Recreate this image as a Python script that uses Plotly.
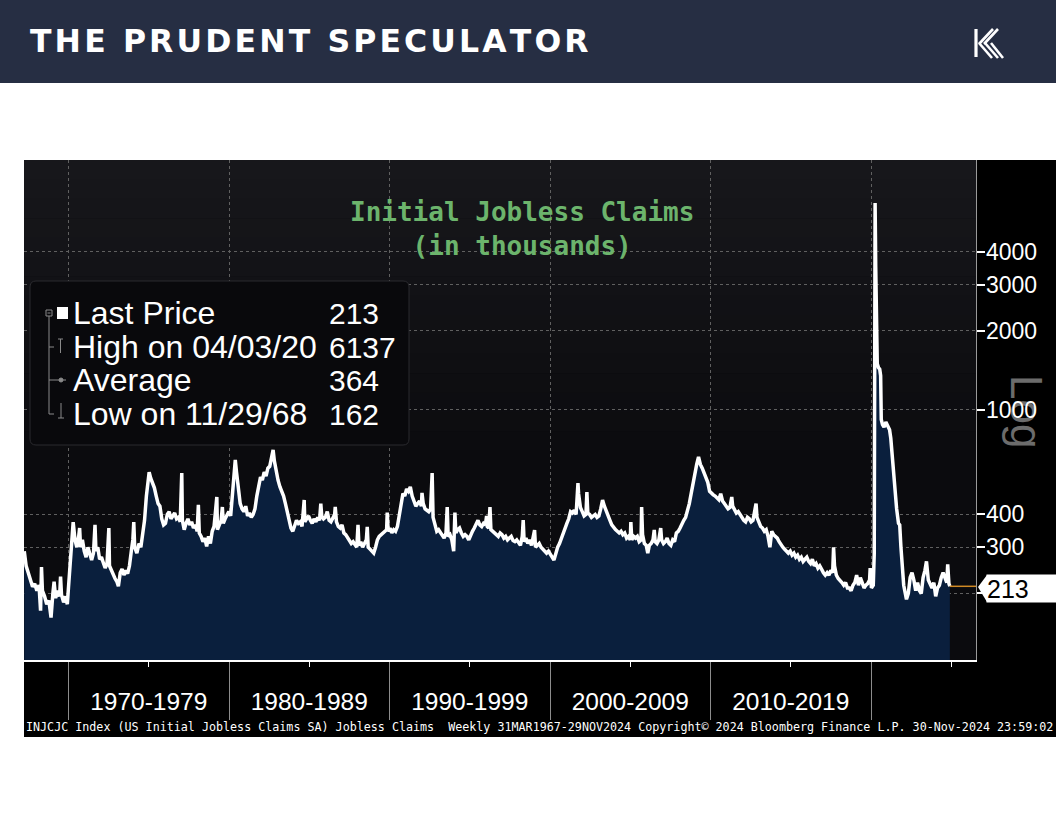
import math
import plotly.graph_objects as go

W, H = 1056, 816

# ---------------- data (thousands of initial claims) ----------------
claims_1960s = [
    ("1967-03-31", 290), ("1967-05-12", 255), ("1967-06-30", 240), ("1967-08-18", 225),
    ("1967-10-06", 212), ("1967-11-24", 218), ("1968-01-12", 205), ("1968-03-01", 215),
    ("1968-04-05", 172), ("1968-04-26", 252), ("1968-05-17", 205), ("1968-07-05", 195),
    ("1968-08-23", 182), ("1968-10-11", 188), ("1968-11-29", 162), ("1969-01-10", 200),
    ("1969-02-07", 222), ("1969-03-14", 192), ("1969-05-02", 205), ("1969-06-13", 195),
    ("1969-07-04", 232), ("1969-07-25", 198), ("1969-09-12", 185), ("1969-10-24", 195),
    ("1969-12-05", 182),
]
claims_1970s = [
    ("1970-01-02", 213), ("1970-02-13", 265), ("1970-03-20", 330), ("1970-04-17", 374),
    ("1970-05-29", 320), ("1970-07-10", 300), ("1970-08-21", 330), ("1970-09-11", 355),
    ("1970-10-02", 300), ("1970-11-13", 320), ("1970-12-25", 290), ("1971-02-05", 275),
    ("1971-03-19", 300), ("1971-04-30", 285), ("1971-06-11", 268), ("1971-07-23", 285),
    ("1971-08-27", 365), ("1971-09-17", 290), ("1971-10-29", 300), ("1971-12-10", 270),
    ("1972-01-21", 275), ("1972-03-03", 262), ("1972-04-14", 250), ("1972-05-26", 260),
    ("1972-07-07", 355), ("1972-07-21", 255), ("1972-09-01", 245), ("1972-10-13", 235),
    ("1972-11-24", 228), ("1973-01-05", 222), ("1973-02-09", 213), ("1973-03-23", 240),
    ("1973-05-04", 248), ("1973-06-15", 235), ("1973-07-27", 245), ("1973-09-07", 238),
    ("1973-10-19", 255), ("1973-11-30", 290), ("1974-01-04", 320), ("1974-01-25", 374),
    ("1974-02-15", 300), ("1974-04-05", 285), ("1974-05-24", 310), ("1974-07-05", 300),
    ("1974-08-16", 330), ("1974-09-27", 380), ("1974-11-08", 470), ("1974-12-20", 540),
    ("1975-01-10", 580), ("1975-02-14", 550), ("1975-03-28", 525), ("1975-05-09", 505),
    ("1975-06-20", 470), ("1975-08-01", 440), ("1975-09-12", 430), ("1975-10-24", 385),
    ("1975-12-05", 365), ("1976-01-16", 370), ("1976-02-27", 400), ("1976-04-09", 410),
    ("1976-05-21", 385), ("1976-07-02", 395), ("1976-08-13", 405), ("1976-09-24", 385),
    ("1976-11-05", 390), ("1976-12-17", 375), ("1977-01-21", 575), ("1977-02-04", 380),
    ("1977-03-18", 350), ("1977-04-29", 370), ("1977-06-10", 385), ("1977-07-22", 365),
    ("1977-09-02", 375), ("1977-10-14", 355), ("1977-11-25", 365), ("1978-01-06", 345),
    ("1978-02-03", 435), ("1978-02-24", 340), ("1978-04-07", 330), ("1978-05-19", 315),
    ("1978-06-30", 325), ("1978-08-11", 302), ("1978-09-22", 330), ("1978-11-03", 310),
    ("1978-12-15", 345), ("1979-01-26", 360), ("1979-03-30", 466), ("1979-04-13", 350),
    ("1979-05-25", 365), ("1979-07-06", 380), ("1979-08-03", 427), ("1979-08-24", 370),
    ("1979-10-05", 385), ("1979-11-16", 400), ("1979-12-28", 410),
]
claims_1980s = [
    ("1980-02-08", 395), ("1980-03-21", 480), ("1980-05-02", 600), ("1980-05-23", 645),
    ("1980-06-20", 580), ("1980-08-01", 500), ("1980-09-12", 440), ("1980-10-24", 420),
    ("1980-12-05", 410), ("1981-01-16", 430), ("1981-02-27", 395), ("1981-04-10", 405),
    ("1981-05-22", 390), ("1981-07-03", 400), ("1981-08-14", 420), ("1981-09-25", 470),
    ("1981-11-06", 520), ("1981-12-18", 555), ("1982-01-29", 540), ("1982-03-12", 580),
    ("1982-04-23", 560), ("1982-06-04", 600), ("1982-07-16", 610), ("1982-08-27", 650),
    ("1982-10-01", 705), ("1982-10-29", 640), ("1982-12-10", 575), ("1983-01-21", 540),
    ("1983-03-04", 510), ("1983-04-15", 490), ("1983-05-27", 470), ("1983-07-08", 440),
    ("1983-08-19", 410), ("1983-09-30", 380), ("1983-11-11", 355), ("1983-12-23", 345),
    ("1984-02-03", 365), ("1984-03-16", 380), ("1984-04-27", 370), ("1984-06-08", 375),
    ("1984-07-20", 360), ("1984-09-07", 454), ("1984-09-21", 375), ("1984-11-02", 385),
    ("1984-12-14", 395), ("1985-01-25", 380), ("1985-03-08", 370), ("1985-04-19", 385),
    ("1985-05-31", 375), ("1985-07-12", 390), ("1985-08-23", 380), ("1985-09-20", 440),
    ("1985-10-11", 395), ("1985-11-22", 385), ("1986-01-03", 390), ("1986-02-14", 410),
    ("1986-03-28", 380), ("1986-05-09", 375), ("1986-06-20", 385), ("1986-08-01", 400),
    ("1986-08-15", 427), ("1986-09-12", 375), ("1986-10-24", 360), ("1986-12-05", 355),
    ("1987-01-16", 365), ("1987-02-27", 340), ("1987-04-10", 335), ("1987-05-22", 325),
    ("1987-07-03", 320), ("1987-08-14", 310), ("1987-09-25", 315), ("1987-11-06", 305),
    ("1987-12-18", 300), ("1988-01-15", 365), ("1988-02-05", 305), ("1988-03-18", 315),
    ("1988-04-29", 300), ("1988-06-10", 310), ("1988-07-22", 320), ("1988-08-12", 359),
    ("1988-09-02", 300), ("1988-10-14", 295), ("1988-11-25", 290), ("1989-01-06", 285),
    ("1989-02-17", 300), ("1989-03-31", 320), ("1989-05-12", 330), ("1989-06-23", 335),
    ("1989-08-04", 340), ("1989-09-15", 345), ("1989-10-27", 350), ("1989-11-10", 407),
    ("1989-12-01", 345),
]
claims_1990s = [
    ("1990-01-12", 355), ("1990-02-23", 340), ("1990-04-06", 350), ("1990-05-18", 345),
    ("1990-06-29", 360), ("1990-08-10", 400), ("1990-09-21", 430), ("1990-11-02", 480),
    ("1990-12-14", 470), ("1991-01-25", 500), ("1991-03-08", 490), ("1991-04-19", 509),
    ("1991-05-31", 470), ("1991-07-12", 445), ("1991-08-23", 430), ("1991-10-04", 440),
    ("1991-11-15", 450), ("1991-12-27", 430), ("1992-01-10", 483), ("1992-02-07", 440),
    ("1992-03-20", 420), ("1992-05-01", 415), ("1992-06-12", 410), ("1992-07-24", 420),
    ("1992-08-28", 575), ("1992-09-18", 390), ("1992-10-30", 370), ("1992-12-11", 345),
    ("1993-01-22", 350), ("1993-03-05", 340), ("1993-04-16", 335), ("1993-05-28", 325),
    ("1993-07-09", 340), ("1993-08-06", 427), ("1993-08-27", 330), ("1993-10-08", 335),
    ("1993-11-19", 320), ("1993-12-31", 290), ("1994-01-28", 407), ("1994-02-18", 340),
    ("1994-04-01", 350), ("1994-05-13", 355), ("1994-06-24", 340), ("1994-08-05", 330),
    ("1994-09-16", 335), ("1994-10-28", 330), ("1994-12-09", 320), ("1995-01-20", 335),
    ("1995-03-03", 345), ("1995-04-14", 355), ("1995-05-26", 370), ("1995-07-07", 380),
    ("1995-08-18", 365), ("1995-09-29", 360), ("1995-11-10", 370), ("1995-12-22", 365),
    ("1996-01-19", 395), ("1996-02-02", 360), ("1996-03-08", 355), ("1996-04-05", 427),
    ("1996-04-26", 350), ("1996-06-07", 345), ("1996-07-19", 340), ("1996-08-30", 335),
    ("1996-10-11", 330), ("1996-11-22", 340), ("1997-01-03", 335), ("1997-02-14", 325),
    ("1997-03-28", 330), ("1997-05-09", 320), ("1997-06-20", 325), ("1997-08-01", 330),
    ("1997-09-12", 318), ("1997-10-24", 315), ("1997-12-05", 320), ("1998-01-16", 310),
    ("1998-02-27", 305), ("1998-04-10", 330), ("1998-05-01", 381), ("1998-05-22", 315),
    ("1998-07-03", 325), ("1998-08-14", 310), ("1998-09-25", 320), ("1998-11-06", 305),
    ("1998-12-18", 330), ("1999-01-15", 349), ("1999-02-05", 300), ("1999-03-19", 305),
    ("1999-04-30", 310), ("1999-06-11", 300), ("1999-07-23", 295), ("1999-09-03", 290),
    ("1999-10-15", 285), ("1999-11-26", 290),
]
claims_2000s = [
    ("2000-01-07", 280), ("2000-02-18", 275), ("2000-03-31", 268), ("2000-05-12", 285),
    ("2000-06-23", 300), ("2000-08-04", 310), ("2000-09-15", 325), ("2000-10-27", 340),
    ("2000-12-08", 360), ("2001-01-19", 370), ("2001-03-02", 385), ("2001-04-13", 410),
    ("2001-05-25", 405), ("2001-07-06", 415), ("2001-08-17", 400), ("2001-09-28", 527),
    ("2001-10-12", 480), ("2001-11-23", 425), ("2002-01-04", 410), ("2002-02-15", 395),
    ("2002-03-29", 400), ("2002-04-19", 487), ("2002-05-10", 405), ("2002-06-21", 400),
    ("2002-08-02", 390), ("2002-09-13", 395), ("2002-10-25", 400), ("2002-12-06", 390),
    ("2003-01-17", 395), ("2003-02-28", 420), ("2003-04-11", 454), ("2003-05-23", 430),
    ("2003-07-04", 415), ("2003-08-15", 400), ("2003-09-26", 380), ("2003-11-07", 365),
    ("2003-12-19", 355), ("2004-01-30", 350), ("2004-03-12", 345), ("2004-04-23", 340),
    ("2004-06-04", 345), ("2004-07-16", 335), ("2004-08-27", 340), ("2004-10-08", 325),
    ("2004-11-19", 330), ("2004-12-31", 320), ("2005-01-14", 374), ("2005-02-04", 320),
    ("2005-03-18", 330), ("2005-04-29", 325), ("2005-06-10", 330), ("2005-07-22", 315),
    ("2005-09-02", 320), ("2005-09-16", 427), ("2005-10-07", 335), ("2005-11-18", 310),
    ("2005-12-30", 305), ("2006-02-03", 285), ("2006-03-10", 305), ("2006-04-21", 310),
    ("2006-06-02", 320), ("2006-06-30", 349), ("2006-07-21", 315), ("2006-09-01", 310),
    ("2006-10-13", 320), ("2006-11-24", 355), ("2006-12-15", 320), ("2007-01-26", 310),
    ("2007-03-09", 315), ("2007-04-20", 325), ("2007-06-01", 310), ("2007-07-13", 305),
    ("2007-08-24", 320), ("2007-10-05", 315), ("2007-11-16", 340), ("2007-12-28", 345),
    ("2008-02-08", 355), ("2008-03-21", 370), ("2008-05-02", 380), ("2008-06-13", 390),
    ("2008-07-25", 410), ("2008-09-05", 440), ("2008-10-17", 480), ("2008-11-28", 530),
    ("2009-01-09", 570), ("2009-02-20", 620), ("2009-04-03", 662), ("2009-05-15", 620),
    ("2009-06-26", 600), ("2009-08-07", 575), ("2009-09-18", 555), ("2009-10-30", 530),
    ("2009-12-11", 490),
]
claims_2010s = [
    ("2010-01-22", 480), ("2010-03-05", 475), ("2010-04-16", 470), ("2010-05-28", 460),
    ("2010-07-09", 455), ("2010-08-20", 480), ("2010-10-01", 450), ("2010-11-12", 440),
    ("2010-12-24", 430), ("2011-02-04", 420), ("2011-03-18", 425), ("2011-04-29", 466),
    ("2011-05-20", 430), ("2011-07-01", 420), ("2011-08-12", 405), ("2011-09-23", 410),
    ("2011-11-04", 400), ("2011-12-16", 385), ("2012-01-27", 380), ("2012-03-09", 375),
    ("2012-04-20", 390), ("2012-06-01", 385), ("2012-07-13", 375), ("2012-08-24", 380),
    ("2012-11-02", 440), ("2012-11-23", 390), ("2013-01-04", 370), ("2013-02-15", 360),
    ("2013-03-29", 355), ("2013-05-10", 345), ("2013-06-21", 350), ("2013-08-02", 330),
    ("2013-09-13", 300), ("2013-10-25", 345), ("2013-12-06", 335), ("2014-01-17", 330),
    ("2014-02-28", 325), ("2014-04-11", 315), ("2014-05-23", 305), ("2014-07-04", 300),
    ("2014-08-15", 295), ("2014-09-26", 290), ("2014-11-07", 285), ("2014-12-19", 290),
    ("2015-01-30", 280), ("2015-03-13", 285), ("2015-04-24", 275), ("2015-06-05", 280),
    ("2015-07-17", 270), ("2015-08-28", 275), ("2015-10-09", 265), ("2015-11-20", 270),
    ("2016-01-01", 275), ("2016-02-12", 265), ("2016-03-25", 260), ("2016-05-06", 270),
    ("2016-06-17", 255), ("2016-07-29", 260), ("2016-09-09", 250), ("2016-10-21", 255),
    ("2016-12-02", 245), ("2017-01-13", 240), ("2017-02-24", 235), ("2017-04-07", 240),
    ("2017-05-19", 235), ("2017-06-30", 245), ("2017-08-11", 240), ("2017-09-01", 300),
    ("2017-09-22", 255), ("2017-11-03", 235), ("2017-12-15", 228), ("2018-01-26", 225),
    ("2018-03-09", 220), ("2018-04-20", 215), ("2018-06-01", 220), ("2018-07-13", 210),
    ("2018-08-24", 210), ("2018-10-05", 205), ("2018-11-16", 215), ("2018-12-28", 220),
    ("2019-02-08", 235), ("2019-03-22", 215), ("2019-05-03", 230), ("2019-06-14", 220),
    ("2019-07-26", 210), ("2019-09-06", 215), ("2019-10-18", 218), ("2019-11-29", 225),
    ("2019-12-13", 250),
]
claims_2020s = [
    ("2020-01-10", 210), ("2020-02-21", 215), ("2020-03-14", 282), ("2020-03-21", 2900),
    ("2020-03-28", 5900), ("2020-04-03", 6137), ("2020-04-10", 4700), ("2020-04-17", 3500),
    ("2020-04-24", 2600), ("2020-05-08", 1900), ("2020-05-22", 1500), ("2020-06-19", 1450),
    ("2020-07-17", 1430), ("2020-08-07", 1350), ("2020-08-21", 920), ("2020-09-18", 880),
    ("2020-10-23", 860), ("2020-12-04", 900), ("2021-01-15", 860), ("2021-02-26", 840),
    ("2021-03-26", 780), ("2021-05-07", 620), ("2021-06-25", 520), ("2021-08-06", 420),
    ("2021-09-17", 370), ("2021-10-15", 365), ("2021-11-12", 300), ("2021-12-17", 250),
    ("2022-01-14", 215), ("2022-03-18", 190), ("2022-04-29", 200), ("2022-06-10", 230),
    ("2022-07-22", 240), ("2022-09-02", 225), ("2022-10-14", 205), ("2022-11-25", 220),
    ("2023-01-06", 205), ("2023-02-17", 200), ("2023-03-31", 230), ("2023-05-12", 245),
    ("2023-06-16", 265), ("2023-07-28", 225), ("2023-09-08", 215), ("2023-10-20", 210),
    ("2023-12-01", 220), ("2024-01-12", 195), ("2024-02-23", 210), ("2024-04-05", 215),
    ("2024-05-17", 230), ("2024-06-28", 240), ("2024-08-09", 230), ("2024-09-20", 220),
    ("2024-10-11", 258), ("2024-10-25", 225), ("2024-11-08", 218), ("2024-11-29", 213),
]

series = claims_1960s + claims_1970s + claims_1980s + claims_1990s + claims_2000s + claims_2010s + claims_2020s
dates = [d for d, _ in series]
claims = [v for _, v in series]

x_range = ["1967-03-25", "2026-07-17"]
y_range_k = [111.6, 8955]
y_ticks = [200, 300, 400, 1000, 2000, 3000, 4000]
decade_starts = ["1970-01-01", "1980-01-01", "1990-01-01", "2000-01-01", "2010-01-01", "2020-01-01"]
decade_mids = ["1975-01-01", "1985-01-01", "1995-01-01", "2005-01-01", "2015-01-01", "2025-01-01"]
decade_labels = ["1970-1979", "1980-1989", "1990-1999", "2000-2009", "2010-2019", ""]
legend_names = ["Last Price", "High on 04/03/20", "Average", "Low on 11/29/68"]
legend_values = ["213", "6137", "364", "162"]
last_price_text = "213"
title_text = "Initial Jobless Claims<br>(in thousands)"
header_text = "THE PRUDENT SPECULATOR"
footer_text = ("INJCJC Index (US Initial Jobless Claims SA) Jobless Claims  Weekly "
               "31MAR1967-29NOV2024 Copyright\u00a9 2024 Bloomberg Finance L.P. 30-Nov-2024 23:59:02")

# ---------------- geometry helpers (pixel -> paper) ----------------
def px(x):
    return x / W

def py(y):
    return 1 - y / H

PL, PR, PT, PB = 24, 976, 160, 660

fig = go.Figure()

fig.add_trace(go.Scatter(
    x=dates, y=claims, mode="lines",
    line=dict(color="white", width=3.5),
    fill="tozeroy", fillcolor="#0a1f3d",
    hoverinfo="skip", showlegend=False,
))
fig.add_trace(go.Scatter(
    x=[dates[-1], x_range[1]], y=[claims[-1], claims[-1]], mode="lines",
    line=dict(color="#d08a25", width=1.5),
    hoverinfo="skip", showlegend=False,
))

shapes = []
# header band
shapes.append(dict(type="rect", xref="paper", yref="paper", x0=0, x1=1, y0=py(83), y1=1,
                   fillcolor="#262e43", line_width=0, layer="below"))
# black chart region
shapes.append(dict(type="rect", xref="paper", yref="paper", x0=px(24), x1=1, y0=py(737), y1=py(160),
                   fillcolor="#000000", line_width=0, layer="below"))
# plot background with subtle vertical gradient
n_bands = 16
top_c = (23, 23, 27)
bot_c = (11, 11, 14)
band_top, band_bot = PT, 470
for i in range(n_bands):
    t = i / (n_bands - 1)
    c = tuple(int(round(top_c[k] + (bot_c[k] - top_c[k]) * t)) for k in range(3))
    y0 = band_top + (band_bot - band_top) * i / n_bands
    y1 = band_top + (band_bot - band_top) * (i + 1) / n_bands
    shapes.append(dict(type="rect", xref="paper", yref="paper", x0=px(PL), x1=px(PR),
                       y0=py(y1 + 0.5), y1=py(y0), fillcolor="rgb(%d,%d,%d)" % c,
                       line_width=0, layer="below"))
shapes.append(dict(type="rect", xref="paper", yref="paper", x0=px(PL), x1=px(PR),
                   y0=py(PB), y1=py(band_bot), fillcolor="rgb(%d,%d,%d)" % bot_c,
                   line_width=0, layer="below"))

# legend box (rounded)
bx0, bx1, by0, by1, r = 30, 409, 281, 445, 6
path = (f"M {px(bx0 + r)},{py(by0)} L {px(bx1 - r)},{py(by0)} Q {px(bx1)},{py(by0)} {px(bx1)},{py(by0 + r)} "
        f"L {px(bx1)},{py(by1 - r)} Q {px(bx1)},{py(by1)} {px(bx1 - r)},{py(by1)} "
        f"L {px(bx0 + r)},{py(by1)} Q {px(bx0)},{py(by1)} {px(bx0)},{py(by1 - r)} "
        f"L {px(bx0)},{py(by0 + r)} Q {px(bx0)},{py(by0)} {px(bx0 + r)},{py(by0)} Z")
shapes.append(dict(type="path", xref="paper", yref="paper", path=path,
                   fillcolor="#09090c", line=dict(color="#2a2a2e", width=1), layer="above"))

gray = "#8a8a8a"
def seg(x0, y0, x1, y1, color=gray, w=1):
    return dict(type="line", xref="paper", yref="paper", x0=px(x0), y0=py(y0), x1=px(x1), y1=py(y1),
                line=dict(color=color, width=w), layer="above")

row_y = [313, 347, 380, 414]
# tree connector + small glyphs
shapes.append(seg(49, 316, 49, 414))
shapes.append(dict(type="rect", xref="paper", yref="paper", x0=px(46), x1=px(52), y0=py(316), y1=py(310),
                   line=dict(color=gray, width=1), fillcolor="rgba(0,0,0,0)", layer="above"))
shapes.append(seg(47.5, 313, 50.5, 313))
shapes.append(dict(type="rect", xref="paper", yref="paper", x0=px(57), x1=px(68), y0=py(319), y1=py(307),
                   line_width=0, fillcolor="white", layer="above"))
shapes.append(seg(49, 347, 54, 347))
shapes.append(seg(58, 339, 63, 339))
shapes.append(seg(60.5, 339, 60.5, 353))
shapes.append(seg(49, 380, 66, 380))
shapes.append(dict(type="circle", xref="paper", yref="paper", x0=px(59), x1=px(63), y0=py(382), y1=py(378),
                   line=dict(color=gray, width=1), fillcolor=gray, layer="above"))
shapes.append(seg(49, 414, 54, 414))
shapes.append(seg(61, 403, 61, 418))
shapes.append(seg(58, 418, 64, 418))

# last-price tag pointer
ly = 587
tag = f"M {px(978)},{py(ly)} L {px(987)},{py(575)} L {px(987)},{py(602)} Z"
shapes.append(dict(type="path", xref="paper", yref="paper", path=tag, fillcolor="white",
                   line_width=0, layer="above"))

# logo (stylised K)
def wline(x0, y0, x1, y1, w=2.6):
    return dict(type="line", xref="paper", yref="paper", x0=px(x0), y0=py(y0), x1=px(x1), y1=py(y1),
                line=dict(color="white", width=w), layer="above")
shapes.append(wline(976, 29, 976, 57, 3.2))
shapes.append(wline(979, 44, 993, 29))
shapes.append(wline(984, 44, 998, 29))
shapes.append(wline(979, 43, 992, 58))
shapes.append(wline(985, 43, 998, 58))
shapes.append(wline(991, 43, 1003, 58))

annotations = []
annotations.append(dict(xref="paper", yref="paper", x=px(28), y=py(41), xanchor="left", yanchor="middle",
                        text="<b>" + "\u200a".join(list(header_text)) + "</b>", showarrow=False,
                        font=dict(family="DejaVu Sans", size=31.5, color="white")))
annotations.append(dict(xref="paper", yref="paper", x=px(522), y=py(229), xanchor="center", yanchor="middle",
                        text="<b>" + title_text + "</b>", showarrow=False,
                        font=dict(family="DejaVu Sans Mono", size=26, color="#6cb46c")))
for name, val, yy in zip(legend_names, legend_values, row_y):
    annotations.append(dict(xref="paper", yref="paper", x=px(71), y=py(yy), xanchor="left", yanchor="middle",
                            text=name, showarrow=False,
                            font=dict(family="Liberation Sans", size=32, color="white")))
    annotations.append(dict(xref="paper", yref="paper", x=px(327), y=py(yy), xanchor="left", yanchor="middle",
                            text=val, showarrow=False,
                            font=dict(family="Liberation Sans", size=30, color="white")))
annotations.append(dict(xref="paper", yref="paper", x=px(1027), y=py(411), xanchor="center", yanchor="middle",
                        text="Log", textangle=90, showarrow=False,
                        font=dict(family="Liberation Sans", size=44, color="#6c6c6c")))
# y tick labels placed on the log axis scale
for v in y_ticks:
    annotations.append(dict(xref="paper", yref="y", x=px(984), y=math.log10(v), xanchor="left",
                            yanchor="middle", text=str(v), showarrow=False,
                            font=dict(family="Liberation Sans", size=23, color="white")))
annotations.append(dict(xref="paper", yref="paper", x=px(986), y=py(588.5), xanchor="left", yanchor="middle",
                        text=last_price_text, showarrow=False, bgcolor="white", borderpad=0,
                        width=70, height=27, align="left",
                        font=dict(family="Liberation Sans", size=25, color="black")))
annotations.append(dict(xref="paper", yref="paper", x=px(24), y=py(727), xanchor="left", yanchor="middle",
                        text=footer_text, showarrow=False,
                        font=dict(family="DejaVu Sans Mono", size=11.7, color="white")))

fig.update_layout(
    width=W, height=H, autosize=False,
    margin=dict(l=0, r=0, t=0, b=0),
    paper_bgcolor="white", plot_bgcolor="rgba(0,0,0,0)",
    showlegend=False,
    shapes=shapes, annotations=annotations,
    xaxis=dict(
        domain=[px(PL), px(PR)], type="date", range=x_range,
        tickmode="array", tickvals=decade_mids, ticktext=decade_labels,
        ticks="outside", ticklen=5, tickcolor="white", tickwidth=1,
        showgrid=False, zeroline=False,
        showline=True, linecolor="white", linewidth=1.5,
        tickfont=dict(family="Liberation Sans", size=24.5, color="white"),
        ticklabelstandoff=14,
        minor=dict(tickmode="array", tickvals=decade_starts, ticks="outside", ticklen=58,
                   tickcolor="#8c8c8c", tickwidth=1, showgrid=True, gridcolor="#606060",
                   griddash="dot", gridwidth=1),
    ),
    yaxis=dict(
        domain=[py(PB), py(PT)], type="log", side="right",
        range=[math.log10(y_range_k[0]), math.log10(y_range_k[1])],
        tickmode="array", tickvals=y_ticks, showticklabels=False,
        ticks="outside", ticklen=8, tickwidth=2, tickcolor="white",
        showgrid=True, gridcolor="#606060", griddash="dot", gridwidth=1,
        zeroline=False, showline=True, linecolor="#9a9a9a", linewidth=1,
    ),
)

fig.write_html("out.html", config={"displayModeBar": False},
               post_script="document.body.style.margin='0';")
